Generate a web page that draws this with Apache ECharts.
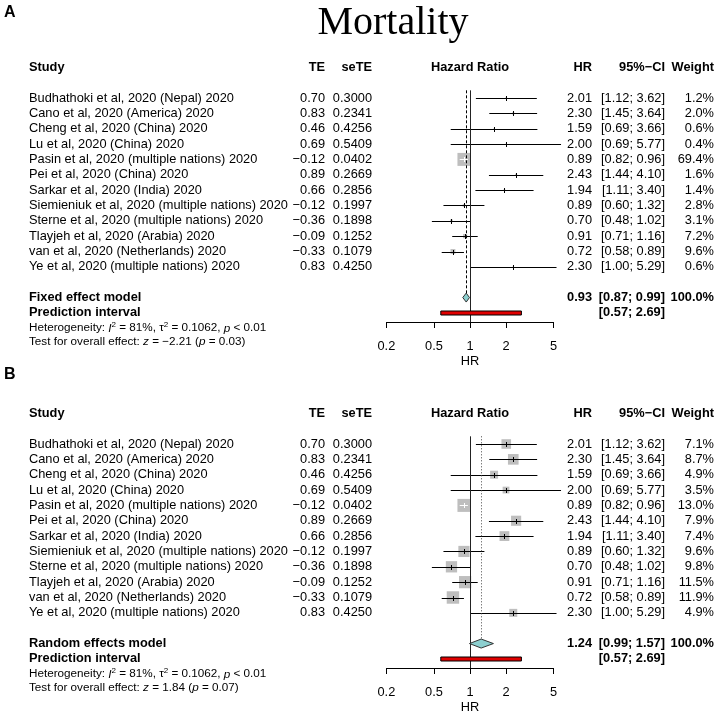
<!DOCTYPE html>
<html><head><meta charset="utf-8">
<script src="https://cdn.jsdelivr.net/npm/echarts@6/dist/echarts.min.js"></script>
<style>html,body{margin:0;padding:0;background:#fff}#c{width:716px;height:712px}</style>
</head><body><div id="c"></div>
<script>
// ---------------- data ----------------
const studies = [
  'Budhathoki et al, 2020 (Nepal) 2020',
  'Cano et al, 2020 (America) 2020',
  'Cheng et al, 2020 (China) 2020',
  'Lu et al, 2020 (China) 2020',
  'Pasin et al, 2020 (multiple nations) 2020',
  'Pei et al, 2020 (China) 2020',
  'Sarkar et al, 2020 (India) 2020',
  'Siemieniuk et al, 2020 (multiple nations) 2020',
  'Sterne et al, 2020 (multiple nations) 2020',
  'Tlayjeh et al, 2020 (Arabia) 2020',
  'van et al, 2020 (Netherlands) 2020',
  'Ye et al, 2020 (multiple nations) 2020'
];
const te = [0.70, 0.83, 0.46, 0.69, -0.12, 0.89, 0.66, -0.12, -0.36, -0.09, -0.33, 0.83];
const seTE = [0.3000, 0.2341, 0.4256, 0.5409, 0.0402, 0.2669, 0.2856, 0.1997, 0.1898, 0.1252, 0.1079, 0.4250];
const hr = [2.01, 2.30, 1.59, 2.00, 0.89, 2.43, 1.94, 0.89, 0.70, 0.91, 0.72, 2.30];
const ciLower = [1.12, 1.45, 0.69, 0.69, 0.82, 1.44, 1.11, 0.60, 0.48, 0.71, 0.58, 1.00];
const ciUpper = [3.62, 3.64, 3.66, 5.77, 0.96, 4.10, 3.40, 1.32, 1.02, 1.16, 0.89, 5.29];
const weightFixed = [1.2, 2.0, 0.6, 0.4, 69.4, 1.6, 1.4, 2.8, 3.1, 7.2, 9.6, 0.6];
const weightRandom = [7.1, 8.7, 4.9, 3.5, 13.0, 7.9, 7.4, 9.6, 9.8, 11.5, 11.9, 4.9];
const fixedModel = [0.93, 0.87, 0.99];
const randomModel = [1.24, 0.99, 1.57];
const predInterval = [0.57, 2.69];
const axisTicks = [0.2, 0.5, 1, 2, 5];
const heterogeneity = { I2: '81%', tau2: '0.1062', p: '< 0.01' };
const overallFixed = { z: '−2.21', p: '0.03' };
const overallRandom = { z: '1.84', p: '0.07' };

// ---------------- layout / style ----------------
const FONT = '"Liberation Sans", Arial, Helvetica, sans-serif';
const FS = 12.8;
const ROW_H = 15.35;
const X = { study: 29, te: 325, se: 372, plot: 470, hr: 592, ci: 665, w: 714 };
const PLOT_LEFT = 386.4, PLOT_RIGHT = 553.6;
const LOG_MIN = Math.log10(axisTicks[0]), LOG_MAX = Math.log10(axisTicks[axisTicks.length - 1]);
const SQ_MAX = 13;
const panels = [
  { y0: 98, axisY: 322, weights: weightFixed, model: fixedModel, modelName: 'Fixed effect model',
    refDash: [3, 2], refColor: '#000', overall: overallFixed },
  { y0: 444, axisY: 668, weights: weightRandom, model: randomModel, modelName: 'Random effects model',
    refDash: [1, 2], refColor: '#444', overall: overallRandom }
];

const fmt2 = v => v.toFixed(2).replace('-', '−');
const fmtCI = (a, b) => '[' + a.toFixed(2) + '; ' + b.toFixed(2) + ']';
const L = Math.log10;

function txt(x, y, text, align, extra) {
  return { type: 'text', x: x, y: y, silent: true,
    style: Object.assign({ text: text, align: align, verticalAlign: 'middle', fill: '#000',
      fontSize: FS, fontFamily: FONT }, extra || {}) };
}

function buildRows(p) {
  const rows = [{ r: -2, kind: 'header' }];
  studies.forEach((s, i) => rows.push({ r: i, kind: 'study', i: i }));
  rows.push({ r: studies.length + 1, kind: 'model' });
  rows.push({ r: studies.length + 2, kind: 'pred' });
  rows.push({ r: studies.length + 3.0, kind: 'het' });
  rows.push({ r: studies.length + 3.87, kind: 'test' });
  return rows;
}

const series = [];
panels.forEach((p, k) => {
  const maxW = Math.max.apply(null, p.weights);
  // study marks
  series.push({
    type: 'custom', xAxisIndex: k, yAxisIndex: k, silent: true, clip: false,
    data: studies.map((s, i) => [L(hr[i]), i]),
    renderItem: function (params, api) {
      const i = params.dataIndex;
      const c = api.coord([L(hr[i]), i]);
      const y = Math.round(c[1]) + 0.5;
      const xl = api.coord([L(ciLower[i]), i])[0];
      const xh = api.coord([L(ciUpper[i]), i])[0];
      const xc = c[0];
      const size = SQ_MAX * Math.sqrt(p.weights[i] / maxW);
      const inside = xl >= xc - size / 2 && xh <= xc + size / 2;
      const col = inside ? '#fff' : '#000';
      return { type: 'group', children: [
        { type: 'rect', shape: { x: xc - size / 2, y: c[1] - size / 2, width: size, height: size },
          style: { fill: '#bebebe' } },
        { type: 'line', shape: { x1: xl, y1: y, x2: xh, y2: y }, style: { stroke: col, lineWidth: 1 } },
        { type: 'line', shape: { x1: Math.round(xc) + 0.5, y1: y - 2.5, x2: Math.round(xc) + 0.5, y2: y + 2.5 },
          style: { stroke: col, lineWidth: 1 } }
      ] };
    }
  });
  // summary: reference lines, diamond, prediction interval
  const mRow = studies.length + 1, pRow = studies.length + 2;
  series.push({
    type: 'custom', xAxisIndex: k, yAxisIndex: k, silent: true, clip: false,
    data: [[L(p.model[0]), mRow]],
    renderItem: function (params, api) {
      const top = api.coord([0, -0.5])[1];
      const x1 = Math.round(api.coord([0, 0])[0]) + 0.5;
      const c = api.coord([L(p.model[0]), mRow]);
      const xm = Math.round(c[0]) + 0.5;
      const xl = api.coord([L(p.model[1]), mRow])[0];
      const xh = api.coord([L(p.model[2]), mRow])[0];
      const h = 4.5;
      const py = api.coord([0, pRow])[1];
      const pl = api.coord([L(predInterval[0]), pRow])[0];
      const ph = api.coord([L(predInterval[1]), pRow])[0];
      return { type: 'group', children: [
        { type: 'line', shape: { x1: x1, y1: top, x2: x1, y2: p.axisY }, style: { stroke: '#222', lineWidth: 1 } },
        { type: 'line', shape: { x1: xm, y1: top, x2: xm, y2: c[1] - h },
          style: { stroke: p.refColor, lineWidth: 1, lineDash: p.refDash } },
        { type: 'polygon', shape: { points: [[xl, c[1]], [c[0], c[1] - h], [xh, c[1]], [c[0], c[1] + h]] },
          style: { fill: '#8ccfcf', stroke: '#333', lineWidth: 1 } },
        { type: 'rect', shape: { x: pl, y: Math.round(py) - 2, width: ph - pl, height: 4 },
          style: { fill: '#e00000', stroke: '#000', lineWidth: 1 } }
      ] };
    }
  });
  // texts
  const rows = buildRows(p);
  series.push({
    type: 'custom', xAxisIndex: k, yAxisIndex: k, silent: true, clip: false,
    data: rows.map(r => [0, r.r]),
    renderItem: function (params, api) {
      const row = rows[params.dataIndex];
      const y = api.coord([0, row.r])[1];
      const B = { fontWeight: 'bold' };
      let ch = [];
      if (row.kind === 'header') {
        ch = [txt(X.study, y, 'Study', 'left', B), txt(X.te, y, 'TE', 'right', B), txt(X.se, y, 'seTE', 'right', B),
          txt(X.plot, y, 'Hazard Ratio', 'center', B), txt(X.hr, y, 'HR', 'right', B),
          txt(X.ci, y, '95%−CI', 'right', B), txt(X.w, y, 'Weight', 'right', B)];
      } else if (row.kind === 'study') {
        const i = row.i;
        ch = [txt(X.study, y, studies[i], 'left'), txt(X.te, y, fmt2(te[i]), 'right'),
          txt(X.se, y, seTE[i].toFixed(4), 'right'), txt(X.hr, y, hr[i].toFixed(2), 'right'),
          txt(X.ci, y, fmtCI(ciLower[i], ciUpper[i]), 'right'), txt(X.w, y, p.weights[i].toFixed(1) + '%', 'right')];
      } else if (row.kind === 'model') {
        ch = [txt(X.study, y, p.modelName, 'left', B), txt(X.hr, y, p.model[0].toFixed(2), 'right', B),
          txt(X.ci, y, fmtCI(p.model[1], p.model[2]), 'right', B), txt(X.w, y, '100.0%', 'right', B)];
      } else if (row.kind === 'pred') {
        ch = [txt(X.study, y, 'Prediction interval', 'left', B),
          txt(X.ci, y, fmtCI(predInterval[0], predInterval[1]), 'right', B)];
      } else {
        const rich = {
          n: { fontSize: 11.7, fontFamily: FONT, fill: '#000' },
          i: { fontSize: 11.7, fontFamily: FONT, fontStyle: 'italic', fill: '#000' },
          s: { fontSize: 8, fontFamily: FONT, fill: '#000', padding: [0, 0, 6, 0] }
        };
        const t = row.kind === 'het'
          ? '{n|Heterogeneity: }{i|I}{s|2}{n| = ' + heterogeneity.I2 + ', τ}{s|2}{n| = ' + heterogeneity.tau2 + ', }{i|p}{n| ' + heterogeneity.p + '}'
          : '{n|Test for overall effect: }{i|z}{n| = ' + p.overall.z + ' (}{i|p}{n| = ' + p.overall.p + ')}';
        ch = [txt(X.study, y, t, 'left', { rich: rich, fontSize: 11.7 })];
      }
      return { type: 'group', children: ch };
    }
  });
});

const chart = echarts.init(document.getElementById('c'), null, { renderer: 'canvas' });
chart.setOption({
  animation: false,
  backgroundColor: '#fff',
  grid: panels.map(p => ({ left: PLOT_LEFT, width: PLOT_RIGHT - PLOT_LEFT, top: p.y0 - ROW_H / 2,
    height: p.axisY - (p.y0 - ROW_H / 2), containLabel: false, outerBoundsMode: 'none' })),
  xAxis: panels.map((p, k) => ({
    gridIndex: k, type: 'value', min: LOG_MIN, max: LOG_MAX, position: 'bottom',
    axisLine: { show: true, onZero: false, lineStyle: { color: '#000', width: 1 } },
    axisTick: { show: true, customValues: axisTicks.map(L), length: 6, lineStyle: { color: '#000' } },
    axisLabel: { show: true, customValues: axisTicks.map(L), hideOverlap: false,
      formatter: v => String(+Math.pow(10, v).toPrecision(2)),
      margin: 18, fontSize: FS, color: '#000', fontFamily: FONT },
    splitLine: { show: false },
    name: 'HR', nameLocation: 'middle', nameGap: 33,
    nameTextStyle: { fontSize: FS, color: '#000', fontFamily: FONT }
  })),
  yAxis: panels.map((p, k) => ({
    gridIndex: k, type: 'value', inverse: true, min: -0.5, max: (p.axisY - p.y0) / ROW_H, show: false
  })),
  graphic: [
    { type: 'text', x: 4, y: 13, style: { text: 'A', fontSize: 16, fontWeight: 'bold', fontFamily: FONT, fill: '#000', verticalAlign: 'middle' } },
    { type: 'text', x: 4, y: 375, style: { text: 'B', fontSize: 16, fontWeight: 'bold', fontFamily: FONT, fill: '#000', verticalAlign: 'middle' } },
    { type: 'text', x: 393, y: 23, style: { text: 'Mortality', fontSize: 40, fontFamily: '"Liberation Serif", "Times New Roman", serif', fill: '#000', align: 'center', verticalAlign: 'middle' } }
  ],
  series: series
});
</script>
</body></html>
